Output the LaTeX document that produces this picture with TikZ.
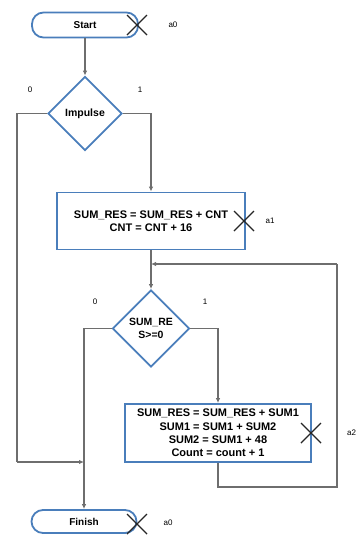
\documentclass[tikz,border=0pt]{standalone}
\usepackage{fontspec}
\setmainfont{Liberation Sans}
\usetikzlibrary{shapes.geometric,arrows.meta}
\definecolor{shapeblue}{RGB}{74,126,187}
\definecolor{linegray}{RGB}{110,110,110}
\tikzset{
  x=1pt,y=1pt,
  term/.style={draw=shapeblue,line width=1.8pt,rounded corners=11.5pt,inner sep=0pt,font=\fontsize{10}{12}\selectfont\bfseries},
  proc/.style={draw=shapeblue,line width=1.8pt,inner sep=0pt,align=center,font=\fontsize{11}{13.4}\selectfont\bfseries},
  dec/.style={draw=shapeblue,line width=1.8pt,diamond,inner sep=0pt,align=center,font=\fontsize{10.5}{13}\selectfont\bfseries},
  conn/.style={draw=linegray,line width=1.1pt},
  arr/.style={conn,-{Latex[length=5pt,width=4.5pt]}},
  lbl/.style={font=\fontsize{8}{9}\selectfont,inner sep=0pt},
  crossmark/.style={draw=black!85,line width=1.4pt},
}
\begin{document}
\begin{tikzpicture}
\useasboundingbox (0,0) rectangle (358,-536);
% nodes
\node[term,minimum width=106pt,minimum height=25pt] (start) at (85,-25) {Start};
\node[dec,minimum width=74pt,minimum height=74pt] (imp) at (85,-113.5) {Impulse};
\node[proc,minimum width=188pt,minimum height=57pt] (box1) at (151,-221) {SUM\_RES = SUM\_RES + CNT\\CNT = CNT + 16};
\node[dec,minimum width=77pt,minimum height=77pt] (dec2) at (151,-328.5) {SUM\_RE\\S>=0};
\node[proc,minimum width=186pt,minimum height=58pt] (box2) at (218,-433) {SUM\_RES = SUM\_RES + SUM1\\SUM1 = SUM1 + SUM2\\SUM2 = SUM1 + 48\\Count = count + 1};
\node[term,minimum width=105pt,minimum height=23pt] (finish) at (84,-521.5) {Finish};
% labels
\node[lbl] (la0) at (173,-25) {a0};
\node[lbl] (l0a) at (30,-90) {0};
\node[lbl] (l1a) at (140,-90) {1};
\node[lbl] (la1) at (270,-221) {a1};
\node[lbl] (l0b) at (95,-302) {0};
\node[lbl] (l1b) at (205,-302) {1};
\node[lbl,anchor=west] (la2) at (347,-433) {a2};
\node[lbl] (la0b) at (168,-523) {a0};
% crosses
\foreach \cx/\cy in {137/-25, 244/-221, 311/-433, 137/-524}{
  \draw[crossmark] (\cx-10,\cy-10) -- (\cx+10,\cy+10);
  \draw[crossmark] (\cx-10,\cy+10) -- (\cx+10,\cy-10);
}
% coordinates
\coordinate (impL) at (17,-113.5);
\coordinate (impR) at (151,-113.5);
\coordinate (join1) at (151,-264);
\coordinate (loopB) at (218,-487);
\coordinate (loopBR) at (337,-487);
\coordinate (loopTR) at (337,-264);
\coordinate (d2L) at (84,-328.5);
\coordinate (d2R) at (218,-328.5);
\coordinate (leftB) at (17,-462);
\coordinate (leftJ) at (84,-462);
% connectors
\draw[arr] (start.south) -- (imp.north);
\draw[arr] (imp.east) -- (impR) -- (box1.north);
\draw[arr] (box1.south) -- (dec2.north);
\draw[conn] (box2.south) -- (loopB) -- (loopBR) -- (loopTR);
\draw[arr] (loopTR) -- (join1);
\draw[arr] (dec2.east) -- (d2R) -- (box2.north);
\draw[arr] (dec2.west) -- (d2L) -- (finish.north);
\draw[conn] (imp.west) -- (impL) -- (leftB);
\draw[arr] (leftB) -- (leftJ);
\end{tikzpicture}
\end{document}
